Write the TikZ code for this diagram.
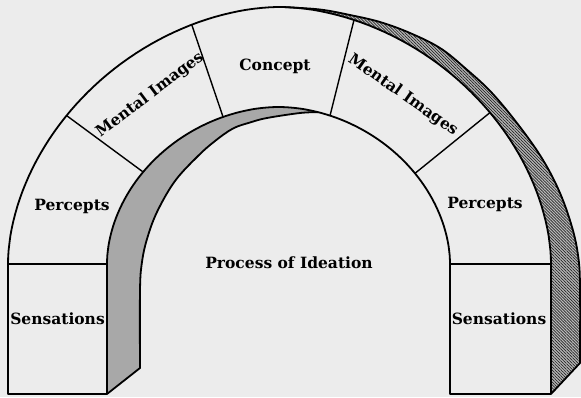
\documentclass[tikz,border=0pt]{standalone}
\usepackage{fontspec}
\setmainfont{DejaVu Serif}
\usetikzlibrary{patterns.meta}
\definecolor{paper}{RGB}{236,236,236}
\definecolor{stone}{RGB}{168,168,168}
\definecolor{hatchbg}{RGB}{185,185,185}
\begin{document}
\begin{tikzpicture}[x=1pt,y=-1pt,line join=round,
  declare function={
    ox(\t)=279.5+271.5*sign(cos(\t))*abs(cos(\t))^1.081;
    oy(\t)=264-257*abs(sin(\t))^1.081;
    ix(\t)=278.5+171.5*sign(cos(\t))*abs(cos(\t))^1.0526;
    iy(\t)=264-157*abs(sin(\t))^1.0526;
  },
  outline/.style={draw=black,line width=1.8pt},
  divider/.style={draw=black,line width=1.4pt},
  lbl/.style={font=\bfseries\fontsize{15.5}{15.5}\selectfont,inner sep=0pt},
  hatchband/.style={fill=hatchbg,postaction={pattern={Lines[angle=-45,distance=2.1pt,line width=0.7pt]},pattern color=black!85}}
]
\fill[paper] (0,0) rectangle (581,397);
\useasboundingbox (0,0) rectangle (581,397);

% corners
\coordinate (LLo) at (8,394);
\coordinate (LLi) at (107,394);
\coordinate (LSo) at (8,264);
\coordinate (LSi) at (107,264);
\coordinate (RLo) at (551,394);
\coordinate (RLi) at (450,394);
\coordinate (RSo) at (551,264);
\coordinate (RSi) at (450,264);
\coordinate (BLi) at (140,368);
\coordinate (BRo) at (580,363);

% divider end points
\coordinate (o1) at ({ox(143)},{oy(143)});
\coordinate (i1) at ({ix(143)},{iy(143)});
\coordinate (o2) at ({ox(110.6)},{oy(110.6)});
\coordinate (i2) at ({ix(110)},{iy(110)});
\coordinate (o3) at ({ox(72.4)},{oy(72.4)});
\coordinate (i3) at ({ix(71.4)},{iy(71.4)});
\coordinate (o4) at ({ox(37.8)},{oy(37.8)});
\coordinate (i4) at ({ix(36.4)},{iy(36.4)});

% intrados (grey band, left)
\fill[stone] (LLi) -- (LSi) -- plot[domain=179.95:75.65,samples=80] ({ix(\x)},{iy(\x)})
  -- plot[smooth,tension=0.6] coordinates {(318,112.2) (300,113) (267,118) (250,122.5) (233,128.5) (215,141) (198,156) (175,181) (157,212) (147,239) (142,262) (140,290) (140,368)} -- cycle;

% extrados (hatched band, right)
\path[hatchband] (RLo) -- (RSo) -- plot[domain=0.05:88,samples=80] ({ox(\x)},{oy(\x)})
  -- plot[smooth,tension=0.6] coordinates {(285.3,7.2) (320,9.5) (350,15) (380,22) (410,33) (440,48) (465,68) (492,93) (520,127) (543,160) (560,193) (572,227) (578,255) (580,285)} -- (BRo) -- cycle;

% front face outline
\draw[outline] (LLo) -- (LSo) -- plot[domain=179.95:0.05,samples=100] ({ox(\x)},{oy(\x)})
  -- (RLo) -- (RLi) -- (RSi) -- plot[domain=0.05:179.95,samples=100] ({ix(\x)},{iy(\x)})
  -- (LLi) -- cycle;

% back edges
\draw[outline] (LLi) -- (BLi) -- plot[smooth,tension=0.6] coordinates {(140,368) (140,290) (142,262) (147,239) (157,212) (175,181) (198,156) (215,141) (233,128.5) (250,122.5) (267,118) (300,113) (318,112.2)};
\draw[outline] (RLo) -- (BRo) -- plot[smooth,tension=0.6] coordinates {(580,363) (580,285) (578,255) (572,227) (560,193) (543,160) (520,127) (492,93) (465,68) (440,48) (410,33) (380,22) (350,15) (320,9.5) (285.3,7.2)};

% joints
\draw[divider] (LSo) -- (LSi);
\draw[divider] (RSi) -- (RSo);
\draw[divider] (o1) -- (i1);
\draw[divider] (o2) -- (i2);
\draw[divider] (o3) -- (i3);
\draw[divider] (o4) -- (i4);

% labels
\node[lbl,anchor=base] (sensL) at (57.5,324) {Sensations};
\node[lbl,anchor=base] (percL) at (72,210) {Percepts};
\node[lbl,rotate=37] (mentL) at (150,95) {Mental Images};
\node[lbl,anchor=base] (conc) at (275,70.5) {Concept};
\node[lbl,rotate=-35] (mentR) at (403,95) {Mental Images};
\node[lbl,anchor=base] (percR) at (485,208.5) {Percepts};
\node[lbl,anchor=base] (sensR) at (499,324.5) {Sensations};
\node[lbl,anchor=base] (proc) at (289,268) {Process of Ideation};
\end{tikzpicture}
\end{document}
